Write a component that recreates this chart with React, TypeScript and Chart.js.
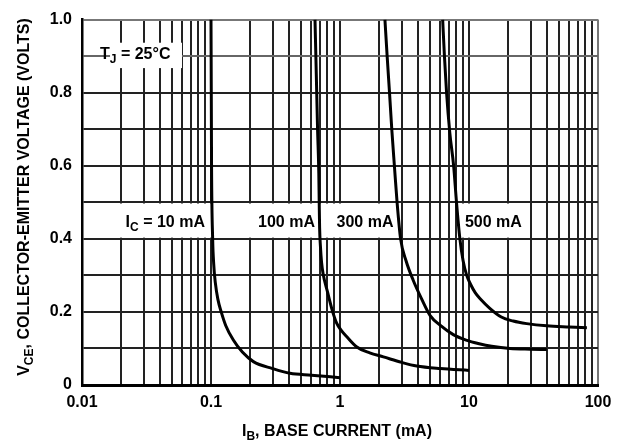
import React, { useEffect, useRef } from 'react';
import { Chart, registerables } from 'chart.js';

Chart.register(...registerables);

// ---------------- data ----------------
// I_B (mA) and V_CE (V) for each collector current curve
const ibIc10 = [0.1, 0.1005, 0.101, 0.103, 0.105, 0.108, 0.113, 0.12, 0.13, 0.149, 0.175, 0.213, 0.3, 0.41, 0.6, 1.0];
const vceIc10 = [1.0, 0.8, 0.6, 0.4, 0.33, 0.28, 0.235, 0.2, 0.163, 0.123, 0.09, 0.064, 0.045, 0.032, 0.027, 0.02];

const ibIc100 = [0.64, 0.655, 0.67, 0.685, 0.69, 0.695, 0.705, 0.72, 0.74, 0.8, 0.87, 0.94, 1.03, 1.13, 1.35, 1.7, 2.17, 3.0, 3.93, 6.0, 10];
const vceIc100 = [1.0, 0.85, 0.7, 0.58, 0.5, 0.43, 0.38, 0.335, 0.304, 0.255, 0.205, 0.17, 0.148, 0.132, 0.104, 0.088, 0.077, 0.062, 0.052, 0.045, 0.04];

const ibIc300 = [2.23, 2.32, 2.42, 2.52, 2.64, 2.77, 2.95, 3.25, 3.7, 4.3, 5.0, 6.0, 7.55, 9.5, 12, 15, 20.8, 30, 40];
const vceIc300 = [1.0, 0.9, 0.8, 0.7, 0.6, 0.5, 0.4, 0.34, 0.286, 0.235, 0.19, 0.163, 0.138, 0.123, 0.113, 0.106, 0.1, 0.098, 0.097];

const ibIc500 = [6.25, 6.45, 6.7, 7.1, 7.6, 8.0, 8.5, 9.0, 9.6, 10.3, 11.2, 12.2, 14.5, 17.8, 22, 28, 40, 60, 82];
const vceIc500 = [1.0, 0.9, 0.8, 0.69, 0.6, 0.5, 0.4, 0.34, 0.3, 0.275, 0.252, 0.236, 0.21, 0.186, 0.175, 0.168, 0.162, 0.159, 0.157];

const xMajorTicks = [0.01, 0.1, 1, 10, 100];
const xTickLabels = ['0.01', '0.1', '1', '10', '100'];
const yMajorTicks = [0, 0.2, 0.4, 0.6, 0.8, 1.0];
const yTickLabels = ['0', '0.2', '0.4', '0.6', '0.8', '1.0'];

type Seg = { t: string; sub?: boolean };

const xTitle: Seg[] = [{ t: 'I' }, { t: 'B', sub: true }, { t: ', BASE CURRENT (mA)' }];
const yTitle: Seg[] = [{ t: 'V' }, { t: 'CE', sub: true }, { t: ', COLLECTOR-EMITTER VOLTAGE (VOLTS)' }];
const tempLabel: Seg[] = [{ t: 'T' }, { t: 'J', sub: true }, { t: ' = 25°C' }];
const curveLabels: Seg[][] = [
  [{ t: 'I' }, { t: 'C', sub: true }, { t: ' = 10 mA' }],
  [{ t: '100 mA' }],
  [{ t: '300 mA' }],
  [{ t: '500 mA' }],
];

// ---------------- annotation placement (data coordinates) ----------------
const whiteBoxes = [
  { x0: 0.0165, x1: 0.0596, y0: 0.864, y1: 0.94 },
  { x0: 0.0171, x1: 2.95, y0: 0.4, y1: 0.5 },
  { x0: 8.3, x1: 28, y0: 0.4, y1: 0.5 },
];
const tempLabelPos = { x: 0.0138, y: 0.905, align: 'left' as const };
const curveLabelPos = [
  { x: 0.0898, y: 0.445, align: 'right' as const },
  { x: 0.64, y: 0.445, align: 'right' as const },
  { x: 0.94, y: 0.445, align: 'left' as const },
  { x: 9.3, y: 0.445, align: 'left' as const },
];

const FONT = '"Liberation Sans", Arial, Helvetica, sans-serif';
const FS = 16;

function drawRich(
  ctx: CanvasRenderingContext2D,
  segs: Seg[],
  x: number,
  y: number,
  align: 'left' | 'center' | 'right',
  size: number
) {
  const mainFont = `bold ${size}px ${FONT}`;
  const subFont = `bold ${Math.round(size * 0.72)}px ${FONT}`;
  let w = 0;
  for (const s of segs) {
    ctx.font = s.sub ? subFont : mainFont;
    w += ctx.measureText(s.t).width;
  }
  let cx = align === 'left' ? x : align === 'center' ? x - w / 2 : x - w;
  ctx.textAlign = 'left';
  ctx.textBaseline = 'middle';
  ctx.fillStyle = '#000';
  for (const s of segs) {
    ctx.font = s.sub ? subFont : mainFont;
    ctx.fillText(s.t, cx, s.sub ? y + size * 0.32 : y);
    cx += ctx.measureText(s.t).width;
  }
}

const xGridValues: number[] = (() => {
  const out: number[] = [];
  for (let e = -2; e <= 1; e++) {
    for (let k = 1; k <= 9; k++) out.push(parseFloat((k * Math.pow(10, e)).toPrecision(6)));
  }
  out.push(100);
  return out;
})();

const annotationPlugin = {
  id: 'annotations',
  beforeDatasetsDraw(chart: any) {
    const { ctx, scales } = chart;
    const xs = scales.x;
    const ys = scales.y;
    ctx.save();
    ctx.fillStyle = '#fff';
    for (const b of whiteBoxes) {
      const l = xs.getPixelForValue(b.x0);
      const r = xs.getPixelForValue(b.x1);
      const t = ys.getPixelForValue(b.y1) + 1.2;
      const btm = ys.getPixelForValue(b.y0) - 1.2;
      ctx.fillRect(l, t, r - l, btm - t);
    }
    drawRich(ctx, tempLabel, xs.getPixelForValue(tempLabelPos.x), ys.getPixelForValue(tempLabelPos.y), tempLabelPos.align, FS);
    curveLabels.forEach((segs, i) => {
      const p = curveLabelPos[i];
      drawRich(ctx, segs, xs.getPixelForValue(p.x), ys.getPixelForValue(p.y), p.align, FS);
    });
    ctx.restore();
  },
  afterDraw(chart: any) {
    const { ctx, chartArea } = chart;
    ctx.save();
    drawRich(ctx, xTitle, (chartArea.left + chartArea.right) / 2 - 3, 432, 'center', FS);
    ctx.translate(25, 197);
    ctx.rotate(-Math.PI / 2);
    drawRich(ctx, yTitle, 0, 0, 'center', FS);
    ctx.restore();
  },
};

function toPoints(xs: number[], ys: number[]) {
  return xs.map((x, i) => ({ x, y: ys[i] }));
}

export default function App() {
  const ref = useRef<HTMLCanvasElement | null>(null);

  useEffect(() => {
    if (!ref.current) return;
    const series = [
      toPoints(ibIc10, vceIc10),
      toPoints(ibIc100, vceIc100),
      toPoints(ibIc300, vceIc300),
      toPoints(ibIc500, vceIc500),
    ];
    const chart = new Chart(ref.current, {
      type: 'line',
      data: {
        datasets: series.map((pts, i) => ({
          label: ['10 mA', '100 mA', '300 mA', '500 mA'][i],
          data: pts,
          borderColor: '#000',
          borderWidth: 3,
          pointRadius: 0,
          fill: false,
          cubicInterpolationMode: 'monotone' as const,
        })),
      },
      options: {
        responsive: false,
        animation: false,
        events: [],
        layout: { padding: { left: 0, right: 24, top: 18, bottom: 0 } },
        plugins: {
          legend: { display: false },
          tooltip: { enabled: false },
        },
        scales: {
          x: {
            type: 'logarithmic',
            min: 0.01,
            max: 100,
            afterBuildTicks: (scale: any) => {
              scale.ticks = xGridValues.map((v) => ({ value: v }));
            },
            afterFit: (scale: any) => {
              scale.height = 61;
            },
            grid: {
              drawTicks: false,
              color: (c: any) => (c.tick && Math.abs(c.tick.value - 100) < 1e-6 ? '#777' : '#222'),
              lineWidth: 2,
            },
            border: { display: true, color: '#000', width: 3 },
            ticks: {
              autoSkip: false,
              maxRotation: 0,
              padding: 8,
              color: '#000',
              font: { family: FONT, size: FS, weight: 'bold' },
              callback: (value: any) => {
                const v = Number(value);
                const i = xMajorTicks.findIndex((m) => Math.abs(m - v) / m < 1e-6);
                return i >= 0 ? xTickLabels[i] : '';
              },
            },
          },
          y: {
            type: 'linear',
            min: 0,
            max: 1,
            afterFit: (scale: any) => {
              scale.width = 82;
            },
            grid: {
              drawTicks: false,
              color: (c: any) => {
                if (!c.tick) return '#222';
                const v = c.tick.value;
                if (Math.abs(v - 1) < 1e-6) return '#777';
                if (Math.abs(v - 0.9) < 1e-6) return '#666';
                return '#222';
              },
              lineWidth: 2,
            },
            border: { display: true, color: '#000', width: 2.5 },
            ticks: {
              stepSize: 0.1,
              autoSkip: false,
              padding: 10,
              color: '#000',
              font: { family: FONT, size: FS, weight: 'bold' },
              callback: (value: any) => {
                const v = Number(value);
                const i = yMajorTicks.findIndex((m) => Math.abs(m - v) < 1e-6);
                return i >= 0 ? yTickLabels[i] : '';
              },
            },
          },
        },
      },
      plugins: [annotationPlugin],
    } as any);
    return () => chart.destroy();
  }, []);

  return (
    <div style={{ position: 'absolute', left: 0, top: 0, width: 622, height: 446, background: '#fff' }}>
      <canvas ref={ref} width={622} height={446} style={{ display: 'block' }} />
    </div>
  );
}
